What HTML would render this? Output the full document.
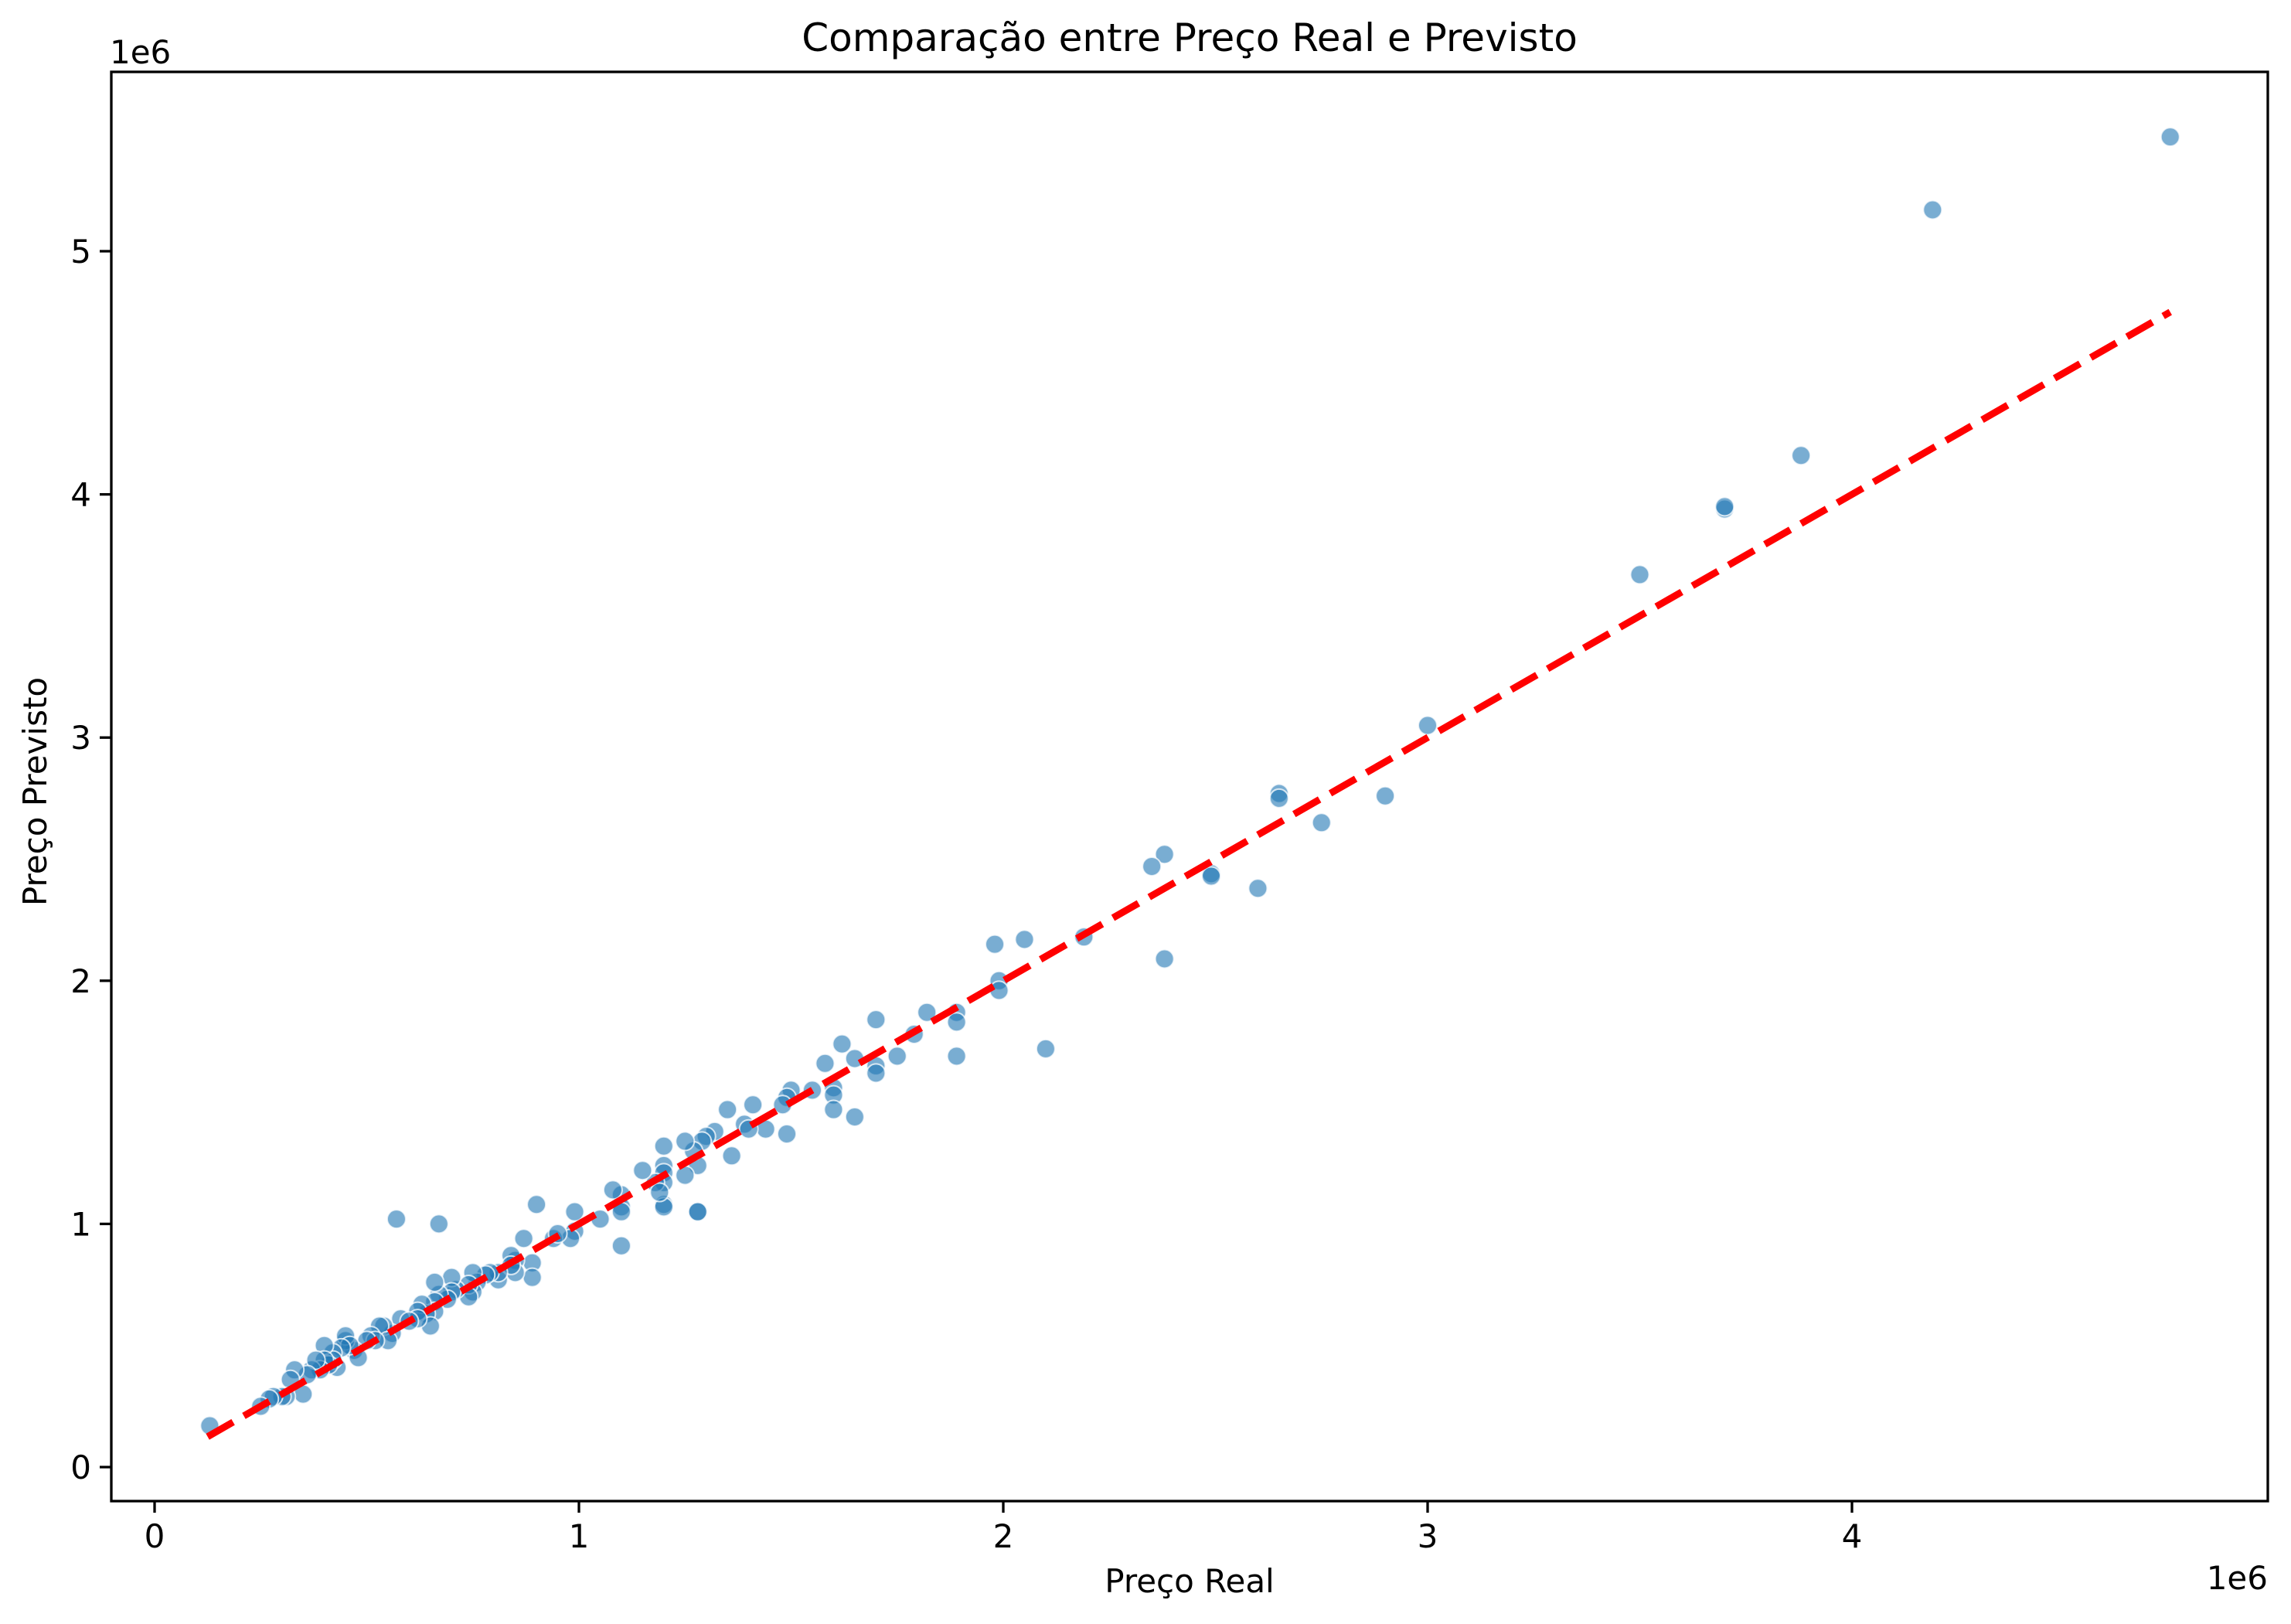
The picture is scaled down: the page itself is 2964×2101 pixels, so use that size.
<!DOCTYPE html>
<html><head><meta charset="utf-8"><style>
html,body{margin:0;padding:0;background:#fff;}
svg{display:block;font-family:"DejaVu Sans","Liberation Sans",sans-serif;}
</style></head><body>
<svg id="chart" width="2964" height="2101" viewBox="0 0 2964 2101" xmlns="http://www.w3.org/2000/svg">
<rect width="2964" height="2101" fill="#fff"/>
<text x="1539" y="66" font-size="50" text-anchor="middle" fill="#000">Comparação entre Preço Real e Previsto</text>
<g id="marks"></g>
<g id="axes"></g>
<text x="1539" y="2060" font-size="42" text-anchor="middle">Preço Real</text>
<text transform="translate(60,1024) rotate(-90)" font-size="42" text-anchor="middle">Preço Previsto</text>
<text x="142" y="82" font-size="42">1e6</text>
<text x="2934" y="2056" font-size="42" text-anchor="end">1e6</text>
</svg>
<script>
const realPrice = [4.75,4.19,3.88,3.70,3.70,3.50,3.00,2.90,2.75,2.65,2.65,2.60,2.49,2.49,2.38,2.35,2.38,2.19,2.10,2.05,1.98,1.99,1.99,1.89,1.89,1.89,1.82,1.79,1.75,1.70,1.70,1.70,1.65,1.65,1.62,1.58,1.60,1.60,1.60,1.55,1.50,1.49,1.48,1.49,1.44,1.41,1.39,1.40,1.35,1.36,1.32,1.30,1.29,1.28,1.28,1.28,1.27,1.25,1.25,1.20,1.20,1.20,1.20,1.20,1.20,1.18,1.19,1.15,1.10,1.10,1.10,1.10,1.08,1.05,0.99,0.99,0.98,0.94,0.95,0.90,0.89,0.89,0.87,0.85,0.85,0.84,0.84,0.81,0.81,0.79,0.78,0.76,0.75,0.75,0.74,0.74,0.71,0.70,0.70,0.69,0.67,0.66,0.66,0.66,0.64,0.65,0.57,0.67,0.63,0.62,0.62,0.58,0.60,0.56,0.54,0.53,0.55,0.51,0.52,0.50,0.47,0.48,0.45,0.45,0.46,0.44,0.42,0.43,0.42,0.41,0.40,0.40,0.39,0.37,0.38,0.36,0.35,0.33,0.32,0.31,0.30,0.28,0.27,0.25,0.13];
const predictedPrice = [5.47,5.17,4.16,3.94,3.95,3.67,3.05,2.76,2.65,2.77,2.75,2.38,2.44,2.43,2.52,2.47,2.09,2.18,1.72,2.17,2.15,2.00,1.96,1.87,1.83,1.69,1.87,1.78,1.69,1.84,1.65,1.62,1.68,1.44,1.74,1.66,1.56,1.53,1.47,1.55,1.55,1.52,1.49,1.37,1.39,1.49,1.41,1.39,1.47,1.28,1.38,1.36,1.34,1.24,1.05,1.05,1.30,1.34,1.20,1.32,1.24,1.21,1.17,1.08,1.07,1.17,1.13,1.22,1.12,1.07,1.05,0.91,1.14,1.02,1.05,0.97,0.94,0.94,0.96,1.08,0.84,0.78,0.94,0.85,0.80,0.87,0.83,0.77,0.80,0.80,0.79,0.76,0.80,0.72,0.75,0.70,0.73,0.78,0.72,0.69,0.71,0.76,0.68,0.64,0.63,0.58,1.02,1.00,0.67,0.64,0.61,0.61,0.60,0.55,0.58,0.58,0.52,0.54,0.52,0.52,0.48,0.45,0.52,0.54,0.50,0.49,0.47,0.41,0.44,0.42,0.50,0.44,0.40,0.40,0.44,0.38,0.30,0.40,0.36,0.29,0.29,0.29,0.28,0.25,0.17];
const idealLine = [0.125,4.75];
const xTicks = [0,1,2,3,4];
const yTicks = [0,1,2,3,4,5];

const NS='http://www.w3.org/2000/svg';
const L=144,R=2934,T=93,B=1942;
function sx(v){return 200+v*549;}
function sy(v){return 1898-v*314.6;}
function mk(tag,attrs,parent){const e=document.createElementNS(NS,tag);for(const k in attrs)e.setAttribute(k,attrs[k]);parent.appendChild(e);return e;}
const marks=document.getElementById('marks');
const axes=document.getElementById('axes');
for(let i=0;i<realPrice.length;i++){
  const c=mk('circle',{cx:sx(realPrice[i]),cy:sy(predictedPrice[i]),r:12,fill:'rgba(31,119,180,0.6)',stroke:'rgba(255,255,255,0.75)','stroke-width':2},marks);
  
  
}
const ln=mk('line',{x1:sx(idealLine[0]),y1:sy(idealLine[0]),x2:sx(idealLine[1]),y2:sy(idealLine[1]),stroke:'#ff0000','stroke-width':9,'stroke-dasharray':'38 16'},marks);


const frame=mk('rect',{x:L,y:T,width:R-L,height:B-T,fill:'none',stroke:'#000','stroke-width':3.3},axes);


xTicks.forEach(t=>{
  const x=sx(t);
  const tk=mk('line',{x1:x,y1:B,x2:x,y2:B+15,stroke:'#000','stroke-width':3.3},axes);
  
  
  const tx=mk('text',{x:x,y:2002,'font-size':42,'text-anchor':'middle'},axes);
  tx.textContent=t;
  
  
});
yTicks.forEach(t=>{
  const y=sy(t);
  const tk=mk('line',{x1:L-15,y1:y,x2:L,y2:y,stroke:'#000','stroke-width':3.3},axes);
  
  
  const tx=mk('text',{x:L-26,y:y+15,'font-size':42,'text-anchor':'end'},axes);
  tx.textContent=t;
  
  
});
</script>
</body></html>
